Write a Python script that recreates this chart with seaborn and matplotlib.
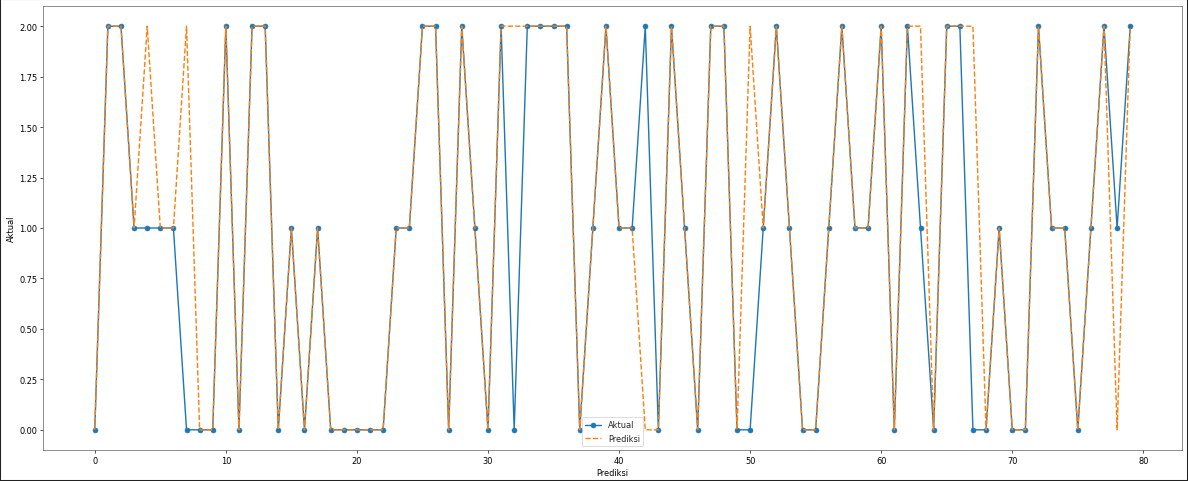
import matplotlib
matplotlib.use("Agg")
import matplotlib.pyplot as plt
from matplotlib.patches import Rectangle
import seaborn as sns
import numpy as np

aktual = [0, 2, 2, 1, 1, 1, 1, 0, 0, 0,
          2, 0, 2, 2, 0, 1, 0, 1, 0, 0,
          0, 0, 0, 1, 1, 2, 2, 0, 2, 1,
          0, 2, 0, 2, 2, 2, 2, 0, 1, 2,
          1, 1, 2, 0, 2, 1, 0, 2, 2, 0,
          0, 1, 2, 1, 0, 0, 1, 2, 1, 1,
          2, 0, 2, 1, 0, 2, 2, 0, 0, 1,
          0, 0, 2, 1, 1, 0, 1, 2, 1, 2]
prediksi = [0, 2, 2, 1, 2, 1, 1, 2, 0, 0,
            2, 0, 2, 2, 0, 1, 0, 1, 0, 0,
            0, 0, 0, 1, 1, 2, 2, 0, 2, 1,
            0, 2, 2, 2, 2, 2, 2, 0, 1, 2,
            1, 1, 0, 0, 2, 1, 0, 2, 2, 0,
            2, 1, 2, 1, 0, 0, 1, 2, 1, 1,
            2, 0, 2, 2, 0, 2, 2, 2, 0, 1,
            0, 0, 2, 1, 1, 0, 1, 2, 0, 2]
index = list(range(len(aktual)))

sns.set_style("ticks")
plt.rcParams['font.family'] = ['DejaVu Sans']

dpi = 59.4
fig = plt.figure(figsize=(1188 / dpi, 482 / dpi), dpi=dpi)
ax = fig.add_axes([43 / 1188, 1 - 451 / 482, (1182 - 43) / 1188, (451 - 7) / 482])

sns.lineplot(x=index, y=aktual, ax=ax, marker='o', color='#1f77b4',
             markeredgecolor='#1f77b4', markersize=6, linewidth=1.7, label='Aktual')
sns.lineplot(x=index, y=prediksi, ax=ax, color='#ff7f0e', linestyle='--',
             linewidth=1.7, label='Prediksi')

ax.set_xlabel('Prediksi', color='black')
ax.set_ylabel('Aktual', color='black')
ax.set_xlim(-3.95, 82.95)
ax.set_ylim(-0.1, 2.1)
ax.set_yticks([0, 0.25, 0.5, 0.75, 1.0, 1.25, 1.5, 1.75, 2.0])
ax.set_yticklabels(['0.00', '0.25', '0.50', '0.75', '1.00', '1.25', '1.50', '1.75', '2.00'])
ax.set_xticks([0, 10, 20, 30, 40, 50, 60, 70, 80])
for s in ax.spines.values():
    s.set_visible(True)
    s.set_color('#555555')
ax.tick_params(colors='black', labelcolor='black')
ax.legend(loc='lower center', frameon=True)

fig.patches.append(Rectangle((0, 0), 1, 1, transform=fig.transFigure, fill=False,
                             edgecolor='#222222', linewidth=2.5, zorder=10))

fig.savefig('out.png', dpi=dpi, facecolor='white')
